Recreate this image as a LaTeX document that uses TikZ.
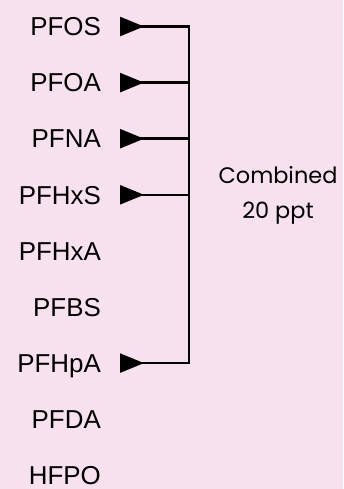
\documentclass[tikz,border=0pt]{standalone}
\usepackage{fontspec}
\setmainfont{Liberation Sans}
\newfontfamily\notefont{Poppins}
\usetikzlibrary{arrows.meta,calc}
\definecolor{bgpink}{RGB}{247,225,238}
\begin{document}
\begin{tikzpicture}[x=1bp, y=-1bp, line join=round, line cap=butt]
	\tikzset{lab/.style={anchor=east, inner sep=0pt, text height=18.5bp, text depth=0pt, font=\fontsize{26}{30}\selectfont},
		tie/.style={line width=2.4bp, -{Triangle[length=24bp, width=19bp, reversed]}},
		note/.style={align=center, inner sep=0pt, font=\notefont\fontsize{22.5}{35}\selectfont}}
	\fill[bgpink] (0,0) rectangle (343,489);
	\useasboundingbox (0,0) rectangle (343,489);
	% compounds
	\foreach \lab [count=\i from 0] in {PFOS,PFOA,PFNA,PFHxS,PFHxA,PFBS,PFHpA,PFDA,HFPO}
		\node[lab] (n\i) at (101,{26.5+56.1*\i}) {\lab};
	% the bracket
	\coordinate (top) at (188.7,26.5);
	\coordinate (bot) at ($(top |- n6.east)$);
	\draw[line width=2.4bp, line cap=rect] (top) -- (bot);
	\foreach \i in {0,1,2,3,6}
		\draw[tie] (n\i.east -| top) -- ([xshift=19bp]n\i.east);
	\node[note] (sum) at (278,195.5) {Combined\\20 ppt};
\end{tikzpicture}
\end{document}
